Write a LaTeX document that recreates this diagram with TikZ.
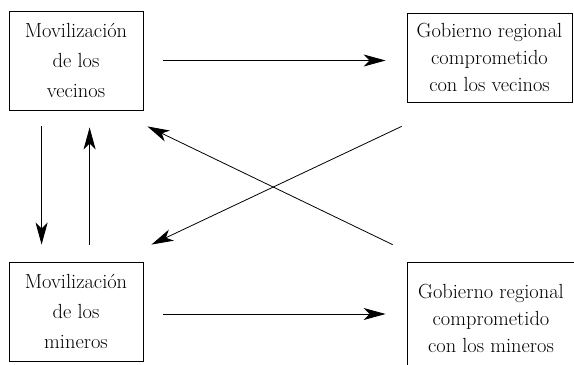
\documentclass[tikz,border=0pt]{standalone}
\usetikzlibrary{arrows.meta}
\begin{document}
\begin{tikzpicture}[x=1bp,y=1bp]
    \tikzstyle{every node}+=[inner sep=0pt]
    \tikzstyle{actor}=[draw=black, line width=0.8bp, align=center, font=\fontsize{20.5}{30}\selectfont]
    \tikzstyle{gov}=[draw=black, line width=0.8bp, align=center, font=\fontsize{20.5}{27}\selectfont]
    \tikzstyle{flow}=[black, line width=0.8bp, -{Stealth[length=22bp,width=12bp,inset=6bp]}]
    \useasboundingbox (0,0) rectangle (574,364);
    \clip (0,0) rectangle (574,364);
    \node [actor, minimum width=134bp, minimum height=99bp] (vecinos) at (76,303.5) {Movilización\\de los\\vecinos};
    \node [gov, minimum width=165bp, minimum height=89bp] (govvec) at (489.5,306.5) {Gobierno regional\\comprometido\\con los vecinos};
    \node [actor, minimum width=134bp, minimum height=99bp] (mineros) at (76,52.5) {Movilización\\de los\\mineros};
    \node [gov, minimum width=168bp, minimum height=113bp] (govmin) at (491,45.5) {Gobierno regional\\comprometido\\con los mineros};
    \draw [flow] ([xshift=20bp]vecinos.east) -- ([xshift=-21bp]vecinos.east -| govvec.west);
    \draw [flow] ([xshift=20bp,yshift=-2.5bp]mineros.east) -- ([xshift=-21bp,yshift=-2.5bp]mineros.east -| govmin.west);
    \draw [flow] ([xshift=33bp,yshift=-16bp]vecinos.south west) -- ([xshift=33bp,yshift=17bp]mineros.north west);
    \draw [flow] ([xshift=81bp,yshift=17bp]mineros.north west) -- ([xshift=81bp,yshift=-17bp]vecinos.south west);
    \draw [flow] ([xshift=-5bp,yshift=-24bp]govvec.south west) -- ([xshift=8bp,yshift=17bp]mineros.north east);
    \draw [flow] ([xshift=-14bp,yshift=17bp]govmin.north west) -- ([xshift=4bp,yshift=-16bp]vecinos.south east);
\end{tikzpicture}
\end{document}
